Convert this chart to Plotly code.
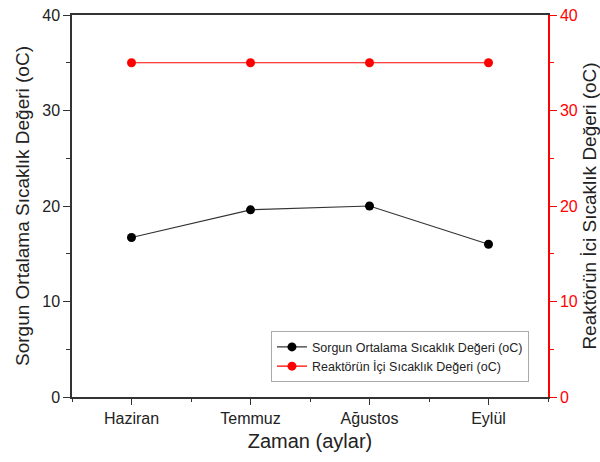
import plotly.graph_objects as go

months = ["Haziran", "Temmuz", "Ağustos", "Eylül"]
sorgun = [16.7, 19.6, 20.0, 16.0]
reaktor = [35, 35, 35, 35]
name_sorgun = "Sorgun Ortalama Sıcaklık Değeri (oC)"
name_reaktor = "Reaktörün İçi Sıcaklık Değeri (oC)"
title_right = "Reaktörün İci Sıcaklık Değeri (oC)"
y_ticks = [0, 10, 20, 30, 40]

xpos = list(range(len(months)))
FONT = "Liberation Sans, Arial, sans-serif"

fig = go.Figure()
fig.add_trace(go.Scatter(x=xpos, y=sorgun, name=name_sorgun, mode="lines+markers",
                         line=dict(color="#333333", width=1.2),
                         marker=dict(color="black", size=9)))
fig.add_trace(go.Scatter(x=xpos, y=reaktor, name=name_reaktor, mode="lines+markers",
                         line=dict(color="red", width=1.2),
                         marker=dict(color="red", size=9), yaxis="y2"))

fig.update_layout(
    width=600, height=462,
    margin=dict(l=72, r=52, t=15, b=65),
    paper_bgcolor="white", plot_bgcolor="white",
    font=dict(family=FONT, color="#222222"),
    showlegend=True,
    legend=dict(x=0.418, y=0.172, xanchor="left", yanchor="top",
                bordercolor="#aaaaaa", borderwidth=1, bgcolor="white",
                font=dict(size=12.5, family=FONT), tracegroupgap=0,
                itemwidth=30),
    xaxis=dict(range=[-0.5, 3.5], tickvals=xpos, ticktext=months, automargin=False,
               showgrid=False, zeroline=False, showline=True, linecolor="#333333",
               linewidth=1.5, mirror=True, ticks="outside", ticklen=6,
               tickcolor="#333333", tickwidth=1.2,
               tickfont=dict(size=16),
               minor=dict(tick0=-0.5, dtick=1, ticks="outside", ticklen=3,
                          tickcolor="#333333", showgrid=False),
               title=dict(text="Zaman (aylar)", font=dict(size=20), standoff=8)),
    yaxis=dict(range=[0, 40], tickvals=y_ticks, showgrid=False, zeroline=False,
               automargin=False,
               showline=True, linecolor="#333333", linewidth=1.5,
               ticks="outside", ticklen=7, tickcolor="#333333", tickwidth=1.2,
               tickfont=dict(size=16),
               minor=dict(dtick=5, ticks="outside", ticklen=4, tickcolor="#333333",
                          showgrid=False),
               title=dict(text=name_sorgun, font=dict(size=19), standoff=8)),
    yaxis2=dict(range=[0, 40], tickvals=y_ticks, overlaying="y", side="right",
                automargin=False,
                showgrid=False, zeroline=False, showline=True, linecolor="red",
                linewidth=1.5, ticks="outside", ticklen=7, tickcolor="red",
                tickwidth=1.2, tickfont=dict(size=16, color="red"),
                minor=dict(dtick=5, ticks="outside", ticklen=4, tickcolor="red",
                           showgrid=False),
                title=dict(text=title_right,
                           font=dict(size=19, color="#222222"), standoff=8)),
)

fig.write_html("out.html")
